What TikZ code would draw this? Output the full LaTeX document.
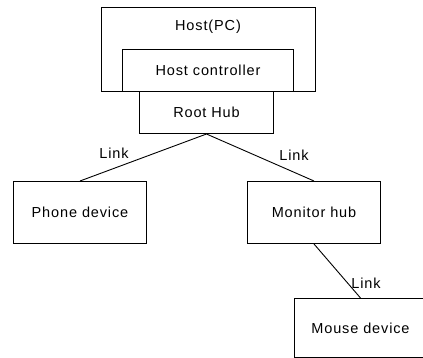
\documentclass[tikz,border=0pt]{standalone}
\usepackage{fontspec}
\setmainfont{Liberation Sans}[LetterSpace=6]
\begin{document}
\begin{tikzpicture}[x=1pt,y=-1pt,
  box/.style={draw,line width=1pt,inner sep=0pt,font=\fontsize{14.5}{16}\selectfont},
  link/.style={line width=0.9pt},
  lbl/.style={font=\fontsize{14.5}{16}\selectfont,inner sep=0pt}]
\useasboundingbox (0,0) rectangle (423,358);
\node[box,minimum width=214,minimum height=84,anchor=north west] (host) at (101,7) {};
\node[lbl] (hosttxt) at (208,27) {Host(PC)};
\node[box,minimum width=171,minimum height=42,anchor=north west,fill=white] (hc) at (122,49) {Host controller};
\node[box,minimum width=134,minimum height=42,anchor=north west] (root) at (139,91) {Root Hub};
\node[box,minimum width=133,minimum height=62,anchor=north west] (phone) at (13,181) {Phone device};
\node[box,minimum width=133,minimum height=62,anchor=north west] (monitor) at (247,181) {Monitor hub};
\begin{scope}
\clip (0,0) rectangle (423,358);
\node[box,minimum width=132,minimum height=59,anchor=north west] (mouse) at (294,298) {Mouse device};
\end{scope}
\draw[link] (root.south) -- (phone.north);
\draw[link] (root.south) -- (monitor.north);
\draw[link] (monitor.south) -- (mouse.north);
\node[lbl] (l1) at (114,153) {Link};
\node[lbl] (l2) at (294,155) {Link};
\node[lbl] (l3) at (366,283) {Link};
\end{tikzpicture}
\end{document}
